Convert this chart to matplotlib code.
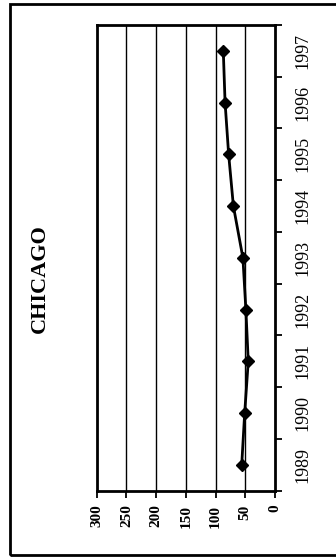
import matplotlib
matplotlib.use("Agg")
import matplotlib.pyplot as plt
from matplotlib.patches import Rectangle
import numpy as np

years = ["1989", "1990", "1991", "1992", "1993", "1994", "1995", "1996", "1997"]
values = [56, 51, 45, 49, 54, 70, 78, 84, 87]
value_ticks = [0, 50, 100, 150, 200, 250, 300]
title = "CHICAGO"

plt.rcParams['font.family'] = ['Liberation Serif', 'DejaVu Serif']

fig = plt.figure(figsize=(3.36, 5.57), dpi=100)
W, H = 336, 557
ax = fig.add_axes([96.7 / W, 1 - 490.7 / H, (275 - 96.7) / W, (490.7 - 25) / H])

pos = np.arange(len(years))
ax.plot(values, pos, color='black', linewidth=2.0, marker='D', markersize=6,
        markerfacecolor='black', markeredgecolor='black', zorder=3)

ax.set_xlim(300, 0)
ax.set_ylim(-0.5, len(years) - 0.5)

ax.set_xticks(value_ticks)
ax.set_xticklabels([str(v) for v in value_ticks], rotation=90, fontsize=11, fontweight='bold')
for v in value_ticks[1:-1]:
    ax.axvline(v, color='black', linewidth=1.0, zorder=1)

ax.yaxis.tick_right()
ax.set_yticks(np.arange(-0.5, len(years), 1.0))
ax.set_yticklabels([])
ax.set_yticks(pos, minor=True)
ax.set_yticklabels(years, minor=True, rotation=90, fontsize=13, va='center')
ax.tick_params(axis='y', which='major', direction='out', length=5, width=1.3, right=True, left=False)
ax.tick_params(axis='y', which='minor', length=0, pad=14, right=True, left=False)
ax.tick_params(axis='x', direction='out', length=5, width=1.3, pad=5)

for s in ax.spines.values():
    s.set_linewidth(2.0)
    s.set_color('black')

fig.text(40 / W, 1 - 279 / H, title, rotation=90, fontsize=16, fontweight='bold',
         ha='center', va='center')

fig.patches.append(Rectangle((10 / W, 1 - 555 / H), 1.2, (555 - 4) / H, transform=fig.transFigure,
                             fill=False, edgecolor='black', linewidth=2.0))

fig.savefig("out.png", dpi=100)
